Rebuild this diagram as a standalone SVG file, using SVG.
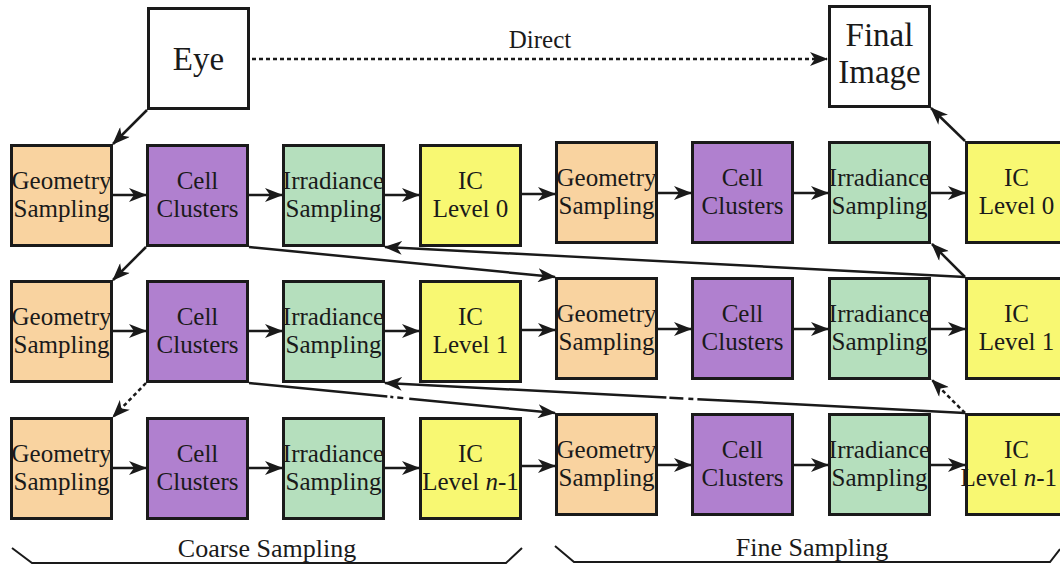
<svg xmlns="http://www.w3.org/2000/svg" width="1060" height="565" viewBox="0 0 1060 565">
<style>
.box{stroke:#1a1a1a;stroke-width:3}
.w{fill:#ffffff}
.g{fill:#f9d3a0}
.c{fill:#b080cf}
.i{fill:#b5dfbd}
.y{fill:#f8f872}
text{font-family:"Liberation Serif","Times New Roman",serif;fill:#1a1a1a;text-anchor:middle}
.t{font-size:25px}
.big{font-size:33px}
.lab{font-size:25px}
.br{font-size:26px}
.ln{stroke:#1a1a1a;stroke-width:2.5;fill:none}
.dot{stroke-dasharray:4 3}
.brk{stroke:#1a1a1a;stroke-width:2;fill:none}
</style>
<defs>
<marker id="ah" viewBox="0 0 18 14" refX="17" refY="7" markerWidth="18" markerHeight="14" markerUnits="userSpaceOnUse" orient="auto">
<path d="M0,0 L18,7 L0,14 L5,7 Z" fill="#1a1a1a"/>
</marker>
</defs>

<g id="eye"><rect class="box w" x="148.5" y="8.5" width="100" height="100"/><text class="big" x="198.5" y="70">Eye</text></g>
<g id="final-image"><rect class="box w" x="829.5" y="6.5" width="100" height="100"/><text class="big" x="879.5" y="46">Final</text><text class="big" x="879.5" y="83">Image</text></g>

<!-- Left half, row 1 -->
<g id="geo-l0"><rect class="box g" x="11.5" y="145.5" width="100" height="100"/><text class="t" x="61.5" y="189">Geometry</text><text class="t" x="61.5" y="217">Sampling</text></g>
<g id="cell-l0"><rect class="box c" x="147.5" y="145.5" width="100" height="100"/><text class="t" x="197.5" y="189">Cell</text><text class="t" x="197.5" y="217">Clusters</text></g>
<g id="irr-l0"><rect class="box i" x="283.5" y="145.5" width="100" height="100"/><text class="t" x="333.5" y="189">Irradiance</text><text class="t" x="333.5" y="217">Sampling</text></g>
<g id="ic-l0"><rect class="box y" x="420.5" y="145.5" width="100" height="100"/><text class="t" x="470.5" y="189">IC</text><text class="t" x="470.5" y="217">Level 0</text></g>
<!-- Left half, row 2 -->
<g id="geo-l1"><rect class="box g" x="11.5" y="281.5" width="100" height="100"/><text class="t" x="61.5" y="325">Geometry</text><text class="t" x="61.5" y="353">Sampling</text></g>
<g id="cell-l1"><rect class="box c" x="147.5" y="281.5" width="100" height="100"/><text class="t" x="197.5" y="325">Cell</text><text class="t" x="197.5" y="353">Clusters</text></g>
<g id="irr-l1"><rect class="box i" x="283.5" y="281.5" width="100" height="100"/><text class="t" x="333.5" y="325">Irradiance</text><text class="t" x="333.5" y="353">Sampling</text></g>
<g id="ic-l1"><rect class="box y" x="420.5" y="281.5" width="100" height="100"/><text class="t" x="470.5" y="325">IC</text><text class="t" x="470.5" y="353">Level 1</text></g>
<!-- Left half, row 3 -->
<g id="geo-l2"><rect class="box g" x="11.5" y="418.5" width="100" height="100"/><text class="t" x="61.5" y="462">Geometry</text><text class="t" x="61.5" y="490">Sampling</text></g>
<g id="cell-l2"><rect class="box c" x="147.5" y="418.5" width="100" height="100"/><text class="t" x="197.5" y="462">Cell</text><text class="t" x="197.5" y="490">Clusters</text></g>
<g id="irr-l2"><rect class="box i" x="283.5" y="418.5" width="100" height="100"/><text class="t" x="333.5" y="462">Irradiance</text><text class="t" x="333.5" y="490">Sampling</text></g>
<g id="ic-l2"><rect class="box y" x="420.5" y="418.5" width="100" height="100"/><text class="t" x="470.5" y="462">IC</text><text class="t" x="470.5" y="490">Level <tspan font-style="italic">n</tspan>-1</text></g>

<!-- Right half, row 1 -->
<g id="geo-r0"><rect class="box g" x="556.5" y="142.5" width="100" height="100"/><text class="t" x="606.5" y="186">Geometry</text><text class="t" x="606.5" y="214">Sampling</text></g>
<g id="cell-r0"><rect class="box c" x="692.5" y="142.5" width="100" height="100"/><text class="t" x="742.5" y="186">Cell</text><text class="t" x="742.5" y="214">Clusters</text></g>
<g id="irr-r0"><rect class="box i" x="829.5" y="142.5" width="100" height="100"/><text class="t" x="879.5" y="186">Irradiance</text><text class="t" x="879.5" y="214">Sampling</text></g>
<g id="ic-r0"><rect class="box y" x="966.5" y="142.5" width="100" height="100"/><text class="t" x="1016.5" y="186">IC</text><text class="t" x="1016.5" y="214">Level 0</text></g>
<!-- Right half, row 2 -->
<g id="geo-r1"><rect class="box g" x="556.5" y="278.5" width="100" height="100"/><text class="t" x="606.5" y="322">Geometry</text><text class="t" x="606.5" y="350">Sampling</text></g>
<g id="cell-r1"><rect class="box c" x="692.5" y="278.5" width="100" height="100"/><text class="t" x="742.5" y="322">Cell</text><text class="t" x="742.5" y="350">Clusters</text></g>
<g id="irr-r1"><rect class="box i" x="829.5" y="278.5" width="100" height="100"/><text class="t" x="879.5" y="322">Irradiance</text><text class="t" x="879.5" y="350">Sampling</text></g>
<g id="ic-r1"><rect class="box y" x="966.5" y="278.5" width="100" height="100"/><text class="t" x="1016.5" y="322">IC</text><text class="t" x="1016.5" y="350">Level 1</text></g>
<!-- Right half, row 3 -->
<g id="geo-r2"><rect class="box g" x="556.5" y="414.5" width="100" height="100"/><text class="t" x="606.5" y="458">Geometry</text><text class="t" x="606.5" y="486">Sampling</text></g>
<g id="cell-r2"><rect class="box c" x="692.5" y="414.5" width="100" height="100"/><text class="t" x="742.5" y="458">Cell</text><text class="t" x="742.5" y="486">Clusters</text></g>
<g id="irr-r2"><rect class="box i" x="829.5" y="414.5" width="100" height="100"/><text class="t" x="879.5" y="458">Irradiance</text><text class="t" x="879.5" y="486">Sampling</text></g>
<g id="ic-r2"><rect class="box y" x="966.5" y="414.5" width="100" height="100"/><text class="t" x="1016.5" y="458">IC</text><text class="t" x="1057" y="486" style="text-anchor:end">Level <tspan font-style="italic">n</tspan>-1</text></g>

<g id="connectors">
<!-- Direct -->
<line class="ln dot" x1="252" y1="59" x2="827" y2="59" stroke-width="2" marker-end="url(#ah)"/>
<!-- diagonals left -->
<line class="ln" x1="147" y1="110" x2="113" y2="144" marker-end="url(#ah)"/>
<line class="ln" x1="146" y1="247" x2="113" y2="280" marker-end="url(#ah)"/>
<line class="ln dot" x1="146" y1="383" x2="113" y2="417" marker-end="url(#ah)"/>
<!-- diagonals right -->
<line class="ln" x1="965" y1="141" x2="931" y2="108" marker-end="url(#ah)"/>
<line class="ln" x1="965" y1="277" x2="932" y2="244" marker-end="url(#ah)"/>
<line class="ln dot" x1="965" y1="413" x2="932" y2="380" marker-end="url(#ah)"/>
<!-- long crossing -->
<line class="ln" x1="249" y1="247" x2="555" y2="277" marker-end="url(#ah)"/>
<line class="ln" x1="965" y1="277" x2="385" y2="247" marker-end="url(#ah)"/>
<line class="ln" x1="249" y1="383" x2="555" y2="413" stroke-dasharray="139 3 3 4 6 6 400" marker-end="url(#ah)"/>
<line class="ln" x1="965" y1="413" x2="385" y2="383" stroke-dasharray="268 4 5 5 14 3 400" marker-end="url(#ah)"/>
<!-- row 1 horizontals -->
<line class="ln" x1="113" y1="195" x2="146" y2="195" marker-end="url(#ah)"/>
<line class="ln" x1="249" y1="195" x2="282" y2="195" marker-end="url(#ah)"/>
<line class="ln" x1="385" y1="195" x2="419" y2="195" marker-end="url(#ah)"/>
<line class="ln" x1="522" y1="194" x2="555" y2="194" marker-end="url(#ah)"/>
<line class="ln" x1="658" y1="193" x2="691" y2="193" marker-end="url(#ah)"/>
<line class="ln" x1="794" y1="193" x2="828" y2="193" marker-end="url(#ah)"/>
<line class="ln" x1="931" y1="193" x2="965" y2="193" marker-end="url(#ah)"/>
<!-- row 2 horizontals -->
<line class="ln" x1="113" y1="331" x2="146" y2="331" marker-end="url(#ah)"/>
<line class="ln" x1="249" y1="331" x2="282" y2="331" marker-end="url(#ah)"/>
<line class="ln" x1="385" y1="331" x2="419" y2="331" marker-end="url(#ah)"/>
<line class="ln" x1="522" y1="330" x2="555" y2="330" marker-end="url(#ah)"/>
<line class="ln" x1="658" y1="329" x2="691" y2="329" marker-end="url(#ah)"/>
<line class="ln" x1="794" y1="329" x2="828" y2="329" marker-end="url(#ah)"/>
<line class="ln" x1="931" y1="329" x2="965" y2="329" marker-end="url(#ah)"/>
<!-- row 3 horizontals -->
<line class="ln" x1="113" y1="468" x2="146" y2="468" marker-end="url(#ah)"/>
<line class="ln" x1="249" y1="468" x2="282" y2="468" marker-end="url(#ah)"/>
<line class="ln" x1="385" y1="468" x2="419" y2="468" marker-end="url(#ah)"/>
<line class="ln" x1="522" y1="466" x2="555" y2="466" marker-end="url(#ah)"/>
<line class="ln" x1="658" y1="465" x2="691" y2="465" marker-end="url(#ah)"/>
<line class="ln" x1="794" y1="465" x2="828" y2="465" marker-end="url(#ah)"/>
<line class="ln" x1="931" y1="465" x2="965" y2="465" marker-end="url(#ah)"/>
</g>

<text class="lab" x="540" y="48">Direct</text>

<g id="coarse-bracket"><path class="brk" d="M12,548 L32,563 L506,563 L522,548"/><text class="br" x="267" y="557">Coarse Sampling</text></g>
<g id="fine-bracket"><path class="brk" d="M555,546 L574,562 L1050,562 L1060,549"/><text class="br" x="812" y="556">Fine Sampling</text></g>
</svg>
